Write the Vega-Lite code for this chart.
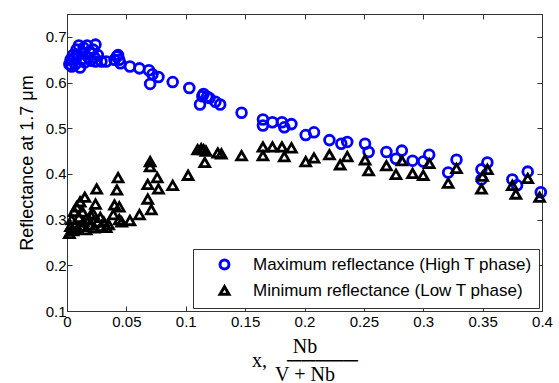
{
  "$schema": "https://vega.github.io/schema/vega-lite/v6.json",
  "width": 475,
  "height": 297,
  "autosize": "none",
  "padding": {"left": 67, "top": 14, "right": 17, "bottom": 72},
  "background": "white",
  "config": {
    "view": {"stroke": "#333333", "strokeWidth": 1},
    "axis": {
      "grid": false,
      "domainColor": "#333333",
      "tickColor": "#333333",
      "tickSize": -5,
      "labelFont": "Liberation Sans",
      "labelFontSize": 15,
      "labelColor": "black",
      "titleColor": "black",
      "titleFontWeight": "normal"
    },
    "legend": {
      "orient": "bottom-right",
      "offset": 3,
      "strokeColor": "#333333",
      "fillColor": "white",
      "padding": 7,
      "labelFont": "Liberation Sans",
      "labelFontSize": 17,
      "labelColor": "black",
      "labelLimit": 400,
      "symbolStrokeWidth": 3,
      "symbolSize": 80,
      "symbolOffset": 16,
      "labelOffset": 20,
      "rowPadding": 5
    }
  },
  "data": {"values": [
    {"x": 0.002, "r": 0.640, "s": "Maximum reflectance (High T phase)"},
    {"x": 0.003, "r": 0.650, "s": "Maximum reflectance (High T phase)"},
    {"x": 0.004, "r": 0.635, "s": "Maximum reflectance (High T phase)"},
    {"x": 0.005, "r": 0.660, "s": "Maximum reflectance (High T phase)"},
    {"x": 0.006, "r": 0.653, "s": "Maximum reflectance (High T phase)"},
    {"x": 0.007, "r": 0.640, "s": "Maximum reflectance (High T phase)"},
    {"x": 0.008, "r": 0.661, "s": "Maximum reflectance (High T phase)"},
    {"x": 0.008, "r": 0.672, "s": "Maximum reflectance (High T phase)"},
    {"x": 0.010, "r": 0.681, "s": "Maximum reflectance (High T phase)"},
    {"x": 0.011, "r": 0.633, "s": "Maximum reflectance (High T phase)"},
    {"x": 0.012, "r": 0.650, "s": "Maximum reflectance (High T phase)"},
    {"x": 0.013, "r": 0.665, "s": "Maximum reflectance (High T phase)"},
    {"x": 0.014, "r": 0.676, "s": "Maximum reflectance (High T phase)"},
    {"x": 0.015, "r": 0.644, "s": "Maximum reflectance (High T phase)"},
    {"x": 0.017, "r": 0.681, "s": "Maximum reflectance (High T phase)"},
    {"x": 0.018, "r": 0.655, "s": "Maximum reflectance (High T phase)"},
    {"x": 0.019, "r": 0.668, "s": "Maximum reflectance (High T phase)"},
    {"x": 0.020, "r": 0.648, "s": "Maximum reflectance (High T phase)"},
    {"x": 0.022, "r": 0.672, "s": "Maximum reflectance (High T phase)"},
    {"x": 0.023, "r": 0.655, "s": "Maximum reflectance (High T phase)"},
    {"x": 0.024, "r": 0.683, "s": "Maximum reflectance (High T phase)"},
    {"x": 0.024, "r": 0.646, "s": "Maximum reflectance (High T phase)"},
    {"x": 0.026, "r": 0.660, "s": "Maximum reflectance (High T phase)"},
    {"x": 0.029, "r": 0.646, "s": "Maximum reflectance (High T phase)"},
    {"x": 0.033, "r": 0.646, "s": "Maximum reflectance (High T phase)"},
    {"x": 0.040, "r": 0.650, "s": "Maximum reflectance (High T phase)"},
    {"x": 0.042, "r": 0.657, "s": "Maximum reflectance (High T phase)"},
    {"x": 0.043, "r": 0.660, "s": "Maximum reflectance (High T phase)"},
    {"x": 0.044, "r": 0.650, "s": "Maximum reflectance (High T phase)"},
    {"x": 0.045, "r": 0.642, "s": "Maximum reflectance (High T phase)"},
    {"x": 0.053, "r": 0.635, "s": "Maximum reflectance (High T phase)"},
    {"x": 0.061, "r": 0.631, "s": "Maximum reflectance (High T phase)"},
    {"x": 0.069, "r": 0.627, "s": "Maximum reflectance (High T phase)"},
    {"x": 0.072, "r": 0.618, "s": "Maximum reflectance (High T phase)"},
    {"x": 0.070, "r": 0.597, "s": "Maximum reflectance (High T phase)"},
    {"x": 0.077, "r": 0.612, "s": "Maximum reflectance (High T phase)"},
    {"x": 0.089, "r": 0.601, "s": "Maximum reflectance (High T phase)"},
    {"x": 0.103, "r": 0.588, "s": "Maximum reflectance (High T phase)"},
    {"x": 0.112, "r": 0.552, "s": "Maximum reflectance (High T phase)"},
    {"x": 0.114, "r": 0.570, "s": "Maximum reflectance (High T phase)"},
    {"x": 0.115, "r": 0.575, "s": "Maximum reflectance (High T phase)"},
    {"x": 0.118, "r": 0.569, "s": "Maximum reflectance (High T phase)"},
    {"x": 0.120, "r": 0.566, "s": "Maximum reflectance (High T phase)"},
    {"x": 0.125, "r": 0.558, "s": "Maximum reflectance (High T phase)"},
    {"x": 0.129, "r": 0.552, "s": "Maximum reflectance (High T phase)"},
    {"x": 0.147, "r": 0.534, "s": "Maximum reflectance (High T phase)"},
    {"x": 0.165, "r": 0.519, "s": "Maximum reflectance (High T phase)"},
    {"x": 0.165, "r": 0.506, "s": "Maximum reflectance (High T phase)"},
    {"x": 0.173, "r": 0.513, "s": "Maximum reflectance (High T phase)"},
    {"x": 0.181, "r": 0.513, "s": "Maximum reflectance (High T phase)"},
    {"x": 0.183, "r": 0.502, "s": "Maximum reflectance (High T phase)"},
    {"x": 0.189, "r": 0.509, "s": "Maximum reflectance (High T phase)"},
    {"x": 0.201, "r": 0.485, "s": "Maximum reflectance (High T phase)"},
    {"x": 0.208, "r": 0.491, "s": "Maximum reflectance (High T phase)"},
    {"x": 0.221, "r": 0.474, "s": "Maximum reflectance (High T phase)"},
    {"x": 0.231, "r": 0.466, "s": "Maximum reflectance (High T phase)"},
    {"x": 0.236, "r": 0.470, "s": "Maximum reflectance (High T phase)"},
    {"x": 0.251, "r": 0.466, "s": "Maximum reflectance (High T phase)"},
    {"x": 0.254, "r": 0.448, "s": "Maximum reflectance (High T phase)"},
    {"x": 0.269, "r": 0.448, "s": "Maximum reflectance (High T phase)"},
    {"x": 0.277, "r": 0.433, "s": "Maximum reflectance (High T phase)"},
    {"x": 0.282, "r": 0.451, "s": "Maximum reflectance (High T phase)"},
    {"x": 0.291, "r": 0.429, "s": "Maximum reflectance (High T phase)"},
    {"x": 0.300, "r": 0.427, "s": "Maximum reflectance (High T phase)"},
    {"x": 0.305, "r": 0.442, "s": "Maximum reflectance (High T phase)"},
    {"x": 0.321, "r": 0.403, "s": "Maximum reflectance (High T phase)"},
    {"x": 0.328, "r": 0.431, "s": "Maximum reflectance (High T phase)"},
    {"x": 0.349, "r": 0.410, "s": "Maximum reflectance (High T phase)"},
    {"x": 0.349, "r": 0.388, "s": "Maximum reflectance (High T phase)"},
    {"x": 0.354, "r": 0.425, "s": "Maximum reflectance (High T phase)"},
    {"x": 0.375, "r": 0.388, "s": "Maximum reflectance (High T phase)"},
    {"x": 0.379, "r": 0.375, "s": "Maximum reflectance (High T phase)"},
    {"x": 0.388, "r": 0.405, "s": "Maximum reflectance (High T phase)"},
    {"x": 0.399, "r": 0.360, "s": "Maximum reflectance (High T phase)"},
    {"x": 0.002, "r": 0.270, "s": "Minimum reflectance (Low T phase)"},
    {"x": 0.003, "r": 0.285, "s": "Minimum reflectance (Low T phase)"},
    {"x": 0.004, "r": 0.300, "s": "Minimum reflectance (Low T phase)"},
    {"x": 0.005, "r": 0.276, "s": "Minimum reflectance (Low T phase)"},
    {"x": 0.006, "r": 0.318, "s": "Minimum reflectance (Low T phase)"},
    {"x": 0.007, "r": 0.290, "s": "Minimum reflectance (Low T phase)"},
    {"x": 0.008, "r": 0.328, "s": "Minimum reflectance (Low T phase)"},
    {"x": 0.009, "r": 0.280, "s": "Minimum reflectance (Low T phase)"},
    {"x": 0.010, "r": 0.305, "s": "Minimum reflectance (Low T phase)"},
    {"x": 0.011, "r": 0.339, "s": "Minimum reflectance (Low T phase)"},
    {"x": 0.012, "r": 0.285, "s": "Minimum reflectance (Low T phase)"},
    {"x": 0.013, "r": 0.317, "s": "Minimum reflectance (Low T phase)"},
    {"x": 0.014, "r": 0.295, "s": "Minimum reflectance (Low T phase)"},
    {"x": 0.015, "r": 0.349, "s": "Minimum reflectance (Low T phase)"},
    {"x": 0.016, "r": 0.278, "s": "Minimum reflectance (Low T phase)"},
    {"x": 0.018, "r": 0.300, "s": "Minimum reflectance (Low T phase)"},
    {"x": 0.019, "r": 0.288, "s": "Minimum reflectance (Low T phase)"},
    {"x": 0.020, "r": 0.310, "s": "Minimum reflectance (Low T phase)"},
    {"x": 0.022, "r": 0.313, "s": "Minimum reflectance (Low T phase)"},
    {"x": 0.023, "r": 0.282, "s": "Minimum reflectance (Low T phase)"},
    {"x": 0.024, "r": 0.334, "s": "Minimum reflectance (Low T phase)"},
    {"x": 0.025, "r": 0.367, "s": "Minimum reflectance (Low T phase)"},
    {"x": 0.026, "r": 0.295, "s": "Minimum reflectance (Low T phase)"},
    {"x": 0.028, "r": 0.305, "s": "Minimum reflectance (Low T phase)"},
    {"x": 0.029, "r": 0.285, "s": "Minimum reflectance (Low T phase)"},
    {"x": 0.031, "r": 0.295, "s": "Minimum reflectance (Low T phase)"},
    {"x": 0.033, "r": 0.283, "s": "Minimum reflectance (Low T phase)"},
    {"x": 0.035, "r": 0.289, "s": "Minimum reflectance (Low T phase)"},
    {"x": 0.039, "r": 0.311, "s": "Minimum reflectance (Low T phase)"},
    {"x": 0.040, "r": 0.332, "s": "Minimum reflectance (Low T phase)"},
    {"x": 0.042, "r": 0.365, "s": "Minimum reflectance (Low T phase)"},
    {"x": 0.043, "r": 0.392, "s": "Minimum reflectance (Low T phase)"},
    {"x": 0.044, "r": 0.328, "s": "Minimum reflectance (Low T phase)"},
    {"x": 0.044, "r": 0.300, "s": "Minimum reflectance (Low T phase)"},
    {"x": 0.046, "r": 0.295, "s": "Minimum reflectance (Low T phase)"},
    {"x": 0.053, "r": 0.298, "s": "Minimum reflectance (Low T phase)"},
    {"x": 0.061, "r": 0.311, "s": "Minimum reflectance (Low T phase)"},
    {"x": 0.068, "r": 0.345, "s": "Minimum reflectance (Low T phase)"},
    {"x": 0.071, "r": 0.322, "s": "Minimum reflectance (Low T phase)"},
    {"x": 0.068, "r": 0.377, "s": "Minimum reflectance (Low T phase)"},
    {"x": 0.070, "r": 0.416, "s": "Minimum reflectance (Low T phase)"},
    {"x": 0.070, "r": 0.427, "s": "Minimum reflectance (Low T phase)"},
    {"x": 0.076, "r": 0.392, "s": "Minimum reflectance (Low T phase)"},
    {"x": 0.077, "r": 0.367, "s": "Minimum reflectance (Low T phase)"},
    {"x": 0.089, "r": 0.375, "s": "Minimum reflectance (Low T phase)"},
    {"x": 0.102, "r": 0.397, "s": "Minimum reflectance (Low T phase)"},
    {"x": 0.110, "r": 0.453, "s": "Minimum reflectance (Low T phase)"},
    {"x": 0.113, "r": 0.455, "s": "Minimum reflectance (Low T phase)"},
    {"x": 0.115, "r": 0.453, "s": "Minimum reflectance (Low T phase)"},
    {"x": 0.117, "r": 0.450, "s": "Minimum reflectance (Low T phase)"},
    {"x": 0.116, "r": 0.425, "s": "Minimum reflectance (Low T phase)"},
    {"x": 0.127, "r": 0.446, "s": "Minimum reflectance (Low T phase)"},
    {"x": 0.130, "r": 0.444, "s": "Minimum reflectance (Low T phase)"},
    {"x": 0.147, "r": 0.440, "s": "Minimum reflectance (Low T phase)"},
    {"x": 0.165, "r": 0.459, "s": "Minimum reflectance (Low T phase)"},
    {"x": 0.165, "r": 0.440, "s": "Minimum reflectance (Low T phase)"},
    {"x": 0.173, "r": 0.459, "s": "Minimum reflectance (Low T phase)"},
    {"x": 0.181, "r": 0.459, "s": "Minimum reflectance (Low T phase)"},
    {"x": 0.183, "r": 0.438, "s": "Minimum reflectance (Low T phase)"},
    {"x": 0.189, "r": 0.457, "s": "Minimum reflectance (Low T phase)"},
    {"x": 0.201, "r": 0.427, "s": "Minimum reflectance (Low T phase)"},
    {"x": 0.208, "r": 0.435, "s": "Minimum reflectance (Low T phase)"},
    {"x": 0.221, "r": 0.442, "s": "Minimum reflectance (Low T phase)"},
    {"x": 0.230, "r": 0.420, "s": "Minimum reflectance (Low T phase)"},
    {"x": 0.236, "r": 0.438, "s": "Minimum reflectance (Low T phase)"},
    {"x": 0.251, "r": 0.431, "s": "Minimum reflectance (Low T phase)"},
    {"x": 0.254, "r": 0.407, "s": "Minimum reflectance (Low T phase)"},
    {"x": 0.269, "r": 0.418, "s": "Minimum reflectance (Low T phase)"},
    {"x": 0.277, "r": 0.399, "s": "Minimum reflectance (Low T phase)"},
    {"x": 0.282, "r": 0.429, "s": "Minimum reflectance (Low T phase)"},
    {"x": 0.291, "r": 0.401, "s": "Minimum reflectance (Low T phase)"},
    {"x": 0.300, "r": 0.397, "s": "Minimum reflectance (Low T phase)"},
    {"x": 0.305, "r": 0.423, "s": "Minimum reflectance (Low T phase)"},
    {"x": 0.321, "r": 0.380, "s": "Minimum reflectance (Low T phase)"},
    {"x": 0.328, "r": 0.412, "s": "Minimum reflectance (Low T phase)"},
    {"x": 0.349, "r": 0.367, "s": "Minimum reflectance (Low T phase)"},
    {"x": 0.350, "r": 0.395, "s": "Minimum reflectance (Low T phase)"},
    {"x": 0.354, "r": 0.410, "s": "Minimum reflectance (Low T phase)"},
    {"x": 0.375, "r": 0.375, "s": "Minimum reflectance (Low T phase)"},
    {"x": 0.378, "r": 0.356, "s": "Minimum reflectance (Low T phase)"},
    {"x": 0.388, "r": 0.390, "s": "Minimum reflectance (Low T phase)"},
    {"x": 0.398, "r": 0.349, "s": "Minimum reflectance (Low T phase)"}
  ]},
  "layer": [
    {
      "mark": {"type": "point", "filled": false, "strokeWidth": 2.8, "size": 95, "opacity": 1},
      "encoding": {
        "x": {"field": "x", "type": "quantitative",
              "scale": {"domain": [0, 0.4], "nice": false, "zero": false},
              "axis": {"values": [0, 0.05, 0.1, 0.15, 0.2, 0.25, 0.3, 0.35, 0.4], "format": "~g", "labelPadding": 8, "labelFlush": false,
                       "title": ["\u2003\u2002\u2009Nb", "x,\u2002\u2002\u2500\u2500\u2500\u2500\u2500", "\u2003\u2002\u2009V + Nb"],
                       "titleFont": "Liberation Serif", "titleFontSize": 20, "titleLineHeight": 14, "titlePadding": 7}},
        "y": {"field": "r", "type": "quantitative",
              "scale": {"domain": [0.1, 0.75], "nice": false, "zero": false},
              "axis": {"values": [0.1, 0.2, 0.3, 0.4, 0.5, 0.6, 0.7], "format": "~g", "labelPadding": 6, "labelFlush": false,
                       "title": "Reflectance at 1.7 \u03bcm", "titleFont": "Liberation Sans", "titleFontSize": 18, "titlePadding": 9}},
        "color": {"field": "s", "type": "nominal",
                  "scale": {"domain": ["Maximum reflectance (High T phase)", "Minimum reflectance (Low T phase)"], "range": ["#0000ff", "#000000"]},
                  "legend": {"title": null}},
        "shape": {"field": "s", "type": "nominal",
                  "scale": {"domain": ["Maximum reflectance (High T phase)", "Minimum reflectance (Low T phase)"], "range": ["circle", "triangle-up"]},
                  "legend": {"title": null}}
      }
    },
    {
      "mark": {"type": "point", "opacity": 0},
      "encoding": {
        "x": {"field": "x", "type": "quantitative",
              "axis": {"orient": "top", "values": [0, 0.05, 0.1, 0.15, 0.2, 0.25, 0.3, 0.35, 0.4], "labels": false, "title": null}},
        "y": {"field": "r", "type": "quantitative",
              "axis": {"orient": "right", "values": [0.1, 0.2, 0.3, 0.4, 0.5, 0.6, 0.7], "labels": false, "title": null}}
      }
    }
  ],
  "resolve": {"axis": {"x": "independent", "y": "independent"}}
}
